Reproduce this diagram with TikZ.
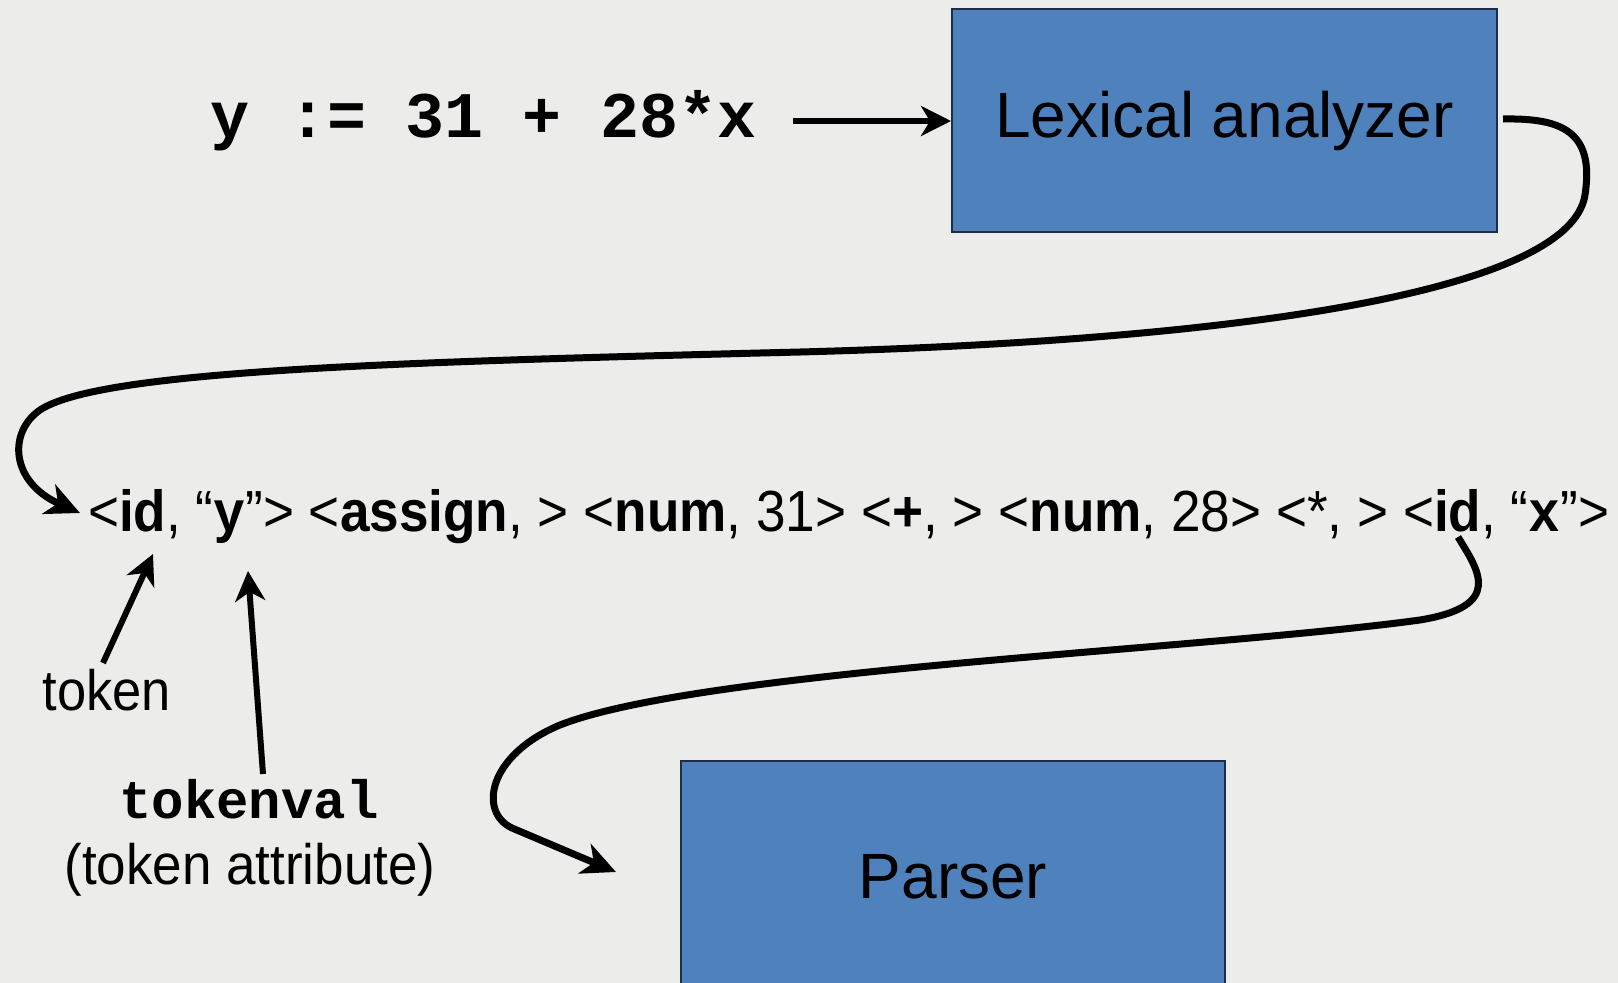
\documentclass[tikz,border=0pt]{standalone}
\usepackage{fontspec}
\setmainfont{Liberation Sans}
\setmonofont{Liberation Mono}
\usetikzlibrary{arrows.meta}
\definecolor{bg}{RGB}{236,236,234}
\definecolor{boxblue}{RGB}{79,129,189}
\definecolor{boxline}{RGB}{28,45,72}
\tikzset{
  blockbox/.style={draw=boxline, line width=2pt, fill=boxblue, inner sep=0pt, text=black},
  curvearrow/.style={line width=7pt, -{Stealth[length=34pt,width=32pt,inset=10pt]}},
  straightarrow/.style={line width=6pt, -{Stealth[length=30pt,width=30pt,inset=9pt]}},
  labeltext/.style={inner sep=0pt, text=black},
}
\begin{document}
\begin{tikzpicture}[x=1pt,y=-1pt]
\fill[bg] (0,0) rectangle (1618,983);
\useasboundingbox (0,0) rectangle (1618,983);
\clip (0,0) rectangle (1618,983);

% boxes
\node[blockbox, minimum width=545pt, minimum height=223pt, anchor=north west] (lex) at (951,8)
  {\fontsize{64}{70}\selectfont Lexical analyzer};
\node[blockbox, minimum width=544pt, minimum height=232pt, anchor=north west] (parser) at (680,760)
  {\fontsize{64}{70}\selectfont Parser};

% source code
\node[labeltext, anchor=base west] (code) at (210,137)
  {\fontsize{65}{70}\selectfont\ttfamily\bfseries y := 31 + 28*x};

% token stream
\node[labeltext, anchor=base west] (tokens) at (88,531)
  {\fontsize{58}{64}\selectfont\scalebox{0.916}[1]{<\textbf{id}, “\texttt{\textbf{y}}”> <\textbf{assign}, > <\textbf{num}, 31> <\textbf{+}, > <\textbf{num}, 28> <*, > <\textbf{id}, “\texttt{\textbf{x}}”>}};

% labels
\node[labeltext, anchor=base] (tok) at (107,710)
  {\fontsize{57}{62}\selectfont\scalebox{0.92}[1]{token}};
\node[labeltext, anchor=base] (tval) at (249,818)
  {\fontsize{54}{60}\selectfont\ttfamily\bfseries tokenval};
\node[labeltext, anchor=base] (attr) at (250,884)
  {\fontsize{57}{62}\selectfont\scalebox{0.93}[1]{(token attribute)}};

% coordinates
\coordinate (codeout) at (793,121);
\coordinate (lexout) at (1503,119);
\coordinate (tokin) at (80,513);
\coordinate (idx) at (1458,537);
\coordinate (parserin) at (616,872);
\coordinate (idy) at (153,554);
\coordinate (yq) at (248,571);
\coordinate (tokout) at (103,663);
\coordinate (tvalout) at (263,774);

% connectors
\draw[straightarrow] (codeout) -- (codeout -| lex.west);

\draw[curvearrow] (lexout)
  .. controls (1560,118) and (1595,130) .. (1585,195)
  .. controls (1570,290) and (1250,340) .. (800,352)
  .. controls (400,362) and (100,370) .. (40,410)
  .. controls (8,432) and (10,482) .. (tokin);

\draw[curvearrow] (idx)
  .. controls (1478,570) and (1505,606) .. (1420,620)
  .. controls (1200,650) and (700,670) .. (560,725)
  .. controls (488,755) and (478,812) .. (512,828)
  -- (parserin);

\draw[straightarrow] (tokout) -- (idy);
\draw[straightarrow] (tvalout) -- (yq);
\end{tikzpicture}
\end{document}
